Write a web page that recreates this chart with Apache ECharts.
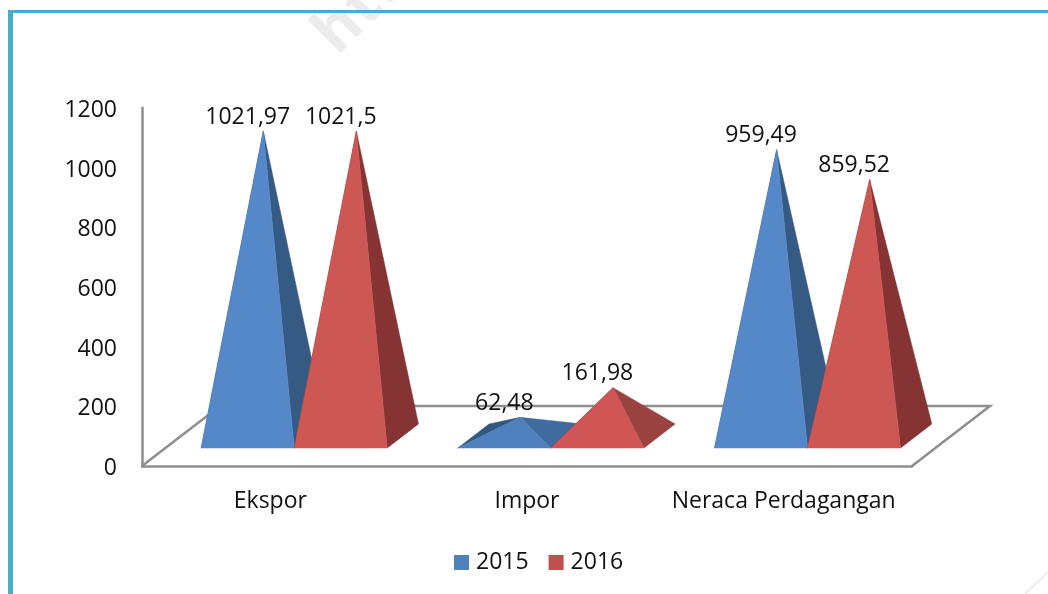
<!DOCTYPE html>
<html>
<head>
<meta charset="utf-8">
<title>Ekspor Impor</title>
<script src="https://cdn.jsdelivr.net/npm/echarts@6/dist/echarts.min.js"></script>
<style>
  html, body { margin: 0; padding: 0; background: #fff; }
  #chart { width: 1048px; height: 594px; }
</style>
</head>
<body>
<div id="chart"></div>
<script>
const categories = ['Ekspor', 'Impor', 'Neraca Perdagangan'];
const values2015 = [1021.97, 62.48, 959.49];
const values2016 = [1021.5, 161.98, 859.52];
const yMax = 1200;
const yInterval = 200;

const fontName = 'Open Sans';
const fontSize = 23;
const textColor = '#111';
const lineColor = '#8e8e8e';

// the floor goes 78px right and 60px up from front to back
const depthX = 78;
const depthY = -60;

function pyramid(slot, colors) {
  return function (params, api) {
    const base = api.coord([api.value(0), 0]);
    const top = api.coord([api.value(0), api.value(1)]);
    const w = api.size([1, 0])[0] * 0.3625;

    // the two pyramids stand side by side around the category centre
    const x0 = base[0] + depthX * 0.3 + (slot - 1) * w + 0.5;
    const x1 = x0 + w;
    const y0 = base[1] + depthY * 0.3;
    const backX = depthX * 0.4;
    const backY = depthY * 0.4;
    const apex = [(x0 + x1) / 2 + backX / 2, top[1] + depthY * 0.5];

    // low pyramids catch more light on the side
    const low = api.value(1) < 300;
    const face = (points, fill) => ({
      type: 'polygon',
      shape: { points },
      style: { fill, stroke: fill, lineWidth: 0.5 },
    });

    return {
      type: 'group',
      children: [
        face([[x0, y0], [x0 + backX, y0 + backY], apex], colors.left),
        face([[x1, y0], [x1 + backX, y0 + backY], apex], low ? colors.sideLow : colors.side),
        face([[x0, y0], [x1, y0], apex], low ? colors.frontLow : colors.front),
        {
          type: 'text',
          style: {
            text: String(api.value(1)).replace('.', ','),
            x: (x0 + x1) / 2,
            y: apex[1] - 14,
            align: 'center',
            verticalAlign: 'middle',
            fill: textColor,
            font: fontSize + 'px "' + fontName + '"',
          },
        },
      ],
    };
  };
}

function floor(params) {
  const g = params.coordSys;
  const bottom = g.y + g.height;
  return {
    type: 'polyline',
    shape: {
      points: [
        [g.x, bottom],
        [g.x + depthX, bottom + depthY],
        [g.x + g.width + depthX, bottom + depthY],
        [g.x + g.width, bottom],
      ],
    },
    style: { fill: null, stroke: lineColor, lineWidth: 2.5 },
  };
}

const blue = { front: '#5588c9', frontLow: '#4f80bd', side: '#355a84', sideLow: '#3f6b9f', left: '#32577f' };
const red = { front: '#cd5752', frontLow: '#d05655', side: '#853333', sideLow: '#9a4240', left: '#853333' };

const myChart = echarts.init(document.getElementById('chart'));
myChart.setOption({
  animation: false,
  backgroundColor: '#fff',
  textStyle: { fontFamily: fontName },
  grid: { left: 142, top: 108, width: 770, height: 358 },
  legend: {
    data: ['2015', '2016'],
    left: 454,
    top: 551,
    padding: 0,
    itemWidth: 15,
    itemHeight: 15,
    itemGap: 20,
    icon: 'rect',
    textStyle: { color: textColor, fontSize, fontFamily: fontName, padding: [2, 0, 0, 2] },
  },
  xAxis: {
    type: 'category',
    data: categories,
    axisTick: { show: false },
    axisLine: { lineStyle: { color: lineColor, width: 2.5 } },
    axisLabel: { color: textColor, fontSize, fontFamily: fontName, margin: 24, interval: 0 },
  },
  yAxis: {
    type: 'value',
    min: 0,
    max: yMax,
    interval: yInterval,
    splitLine: { show: false },
    axisTick: { show: false },
    axisLine: { show: true, lineStyle: { color: lineColor, width: 2.5, cap: 'square' } },
    axisLabel: {
      margin: 25,
      formatter: (v) => '{tick|' + v + '}',
      // top padding pushes the numbers down to sit on their ticks
      rich: { tick: { color: textColor, fontSize, fontFamily: fontName, padding: [5, 0, 0, 0] } },
    },
  },
  series: [
    {
      type: 'custom',
      name: 'floor',
      z: 1,
      silent: true,
      renderItem: floor,
      data: [[0, 0]],
    },
    {
      type: 'custom',
      name: '2015',
      z: 2,
      itemStyle: { color: '#4f81bd' },
      encode: { x: 0, y: 1 },
      renderItem: pyramid(0, blue),
      data: values2015.map((v, i) => [i, v]),
    },
    {
      type: 'custom',
      name: '2016',
      z: 3,
      itemStyle: { color: '#c0504d' },
      encode: { x: 0, y: 1 },
      renderItem: pyramid(1, red),
      data: values2016.map((v, i) => [i, v]),
    },
  ],
  graphic: [
    // frame of the page the chart was pasted in
    { type: 'rect', z: 10, shape: { x: 8, y: 10, width: 1040, height: 3 }, style: { fill: '#4bacc6' } },
    { type: 'rect', z: 10, shape: { x: 8, y: 10, width: 5, height: 584 }, style: { fill: '#4bacc6' } },
    // watermark
    {
      type: 'text',
      z: 0,
      x: 347,
      y: 66,
      rotation: Math.PI / 4,
      style: { text: 'http', font: 'bold 62px "' + fontName + '"', fill: '#ececec', verticalAlign: 'bottom' },
    },
    { type: 'line', z: 0, shape: { x1: 1025, y1: 594, x2: 1048, y2: 572 }, style: { stroke: '#ececec', lineWidth: 2 } },
  ],
});
</script>
</body>
</html>
